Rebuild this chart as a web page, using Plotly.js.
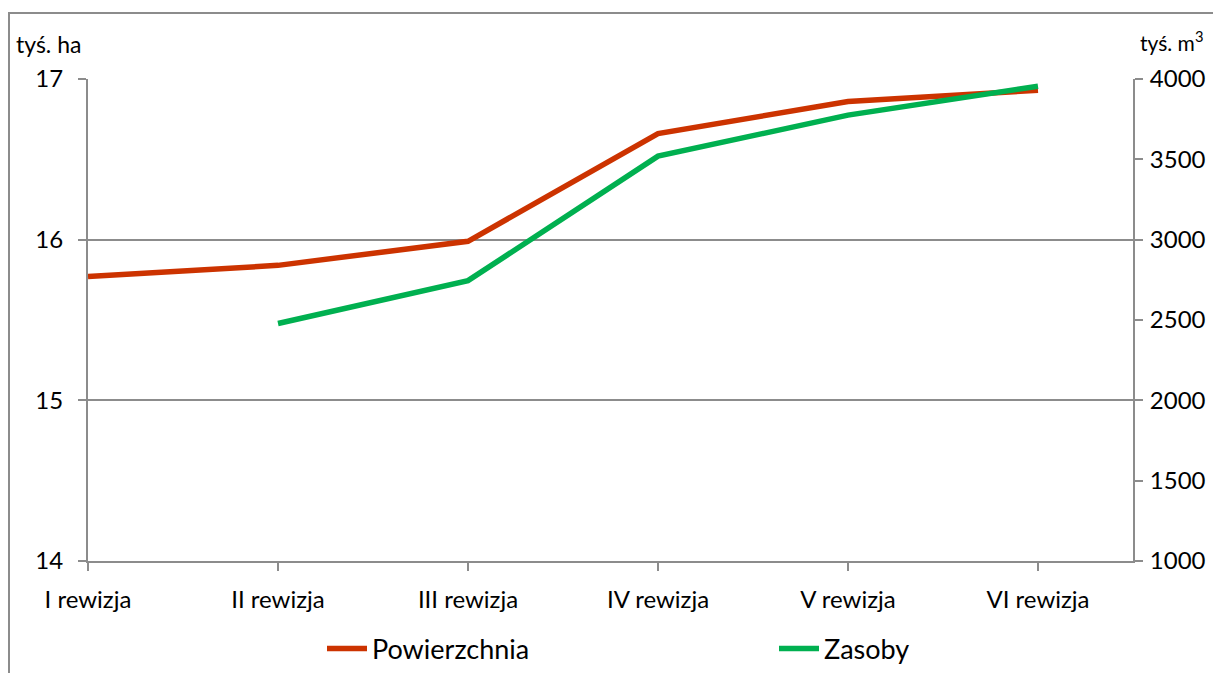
<!DOCTYPE html>
<html>
<head>
<meta charset="utf-8">
<script src="https://cdn.plot.ly/plotly-3.0.1.min.js"></script>
<style>
html,body{margin:0;padding:0;background:#fff;}
#wrap{position:relative;width:1213px;height:673px;overflow:hidden;}
#frame{position:absolute;left:8px;top:12px;width:1300px;height:800px;border-left:2px solid #8c8c8c;border-top:2px solid #8c8c8c;pointer-events:none;z-index:5;}
#chart{position:absolute;left:0;top:0;width:1213px;height:673px;}
</style>
</head>
<body>
<div id="wrap">
<div id="chart"></div>
<div id="frame"></div>
</div>
<script>
const categories = ["I rewizja", "II rewizja", "III rewizja", "IV rewizja", "V rewizja", "VI rewizja"];
const powierzchnia = [15.77, 15.84, 15.99, 16.66, 16.86, 16.93];
const zasobyCats = ["II rewizja", "III rewizja", "IV rewizja", "V rewizja", "VI rewizja"];
const zasoby = [2478, 2745, 3520, 3775, 3955];
const leftTitle = "tyś. ha";
const rightTitle = "tyś. m<sup>3</sup>";

const FONT = "Lato, 'Open Sans', sans-serif";
const AX = "#8c8c8c";
const TF = 24;

const traces = [
  {x: categories, y: powierzchnia, name: "Powierzchnia", type: "scatter", mode: "lines",
   line: {color: "#CC3300", width: 5.5}, yaxis: "y", legend: "legend"},
  {x: zasobyCats, y: zasoby, name: "Zasoby", type: "scatter", mode: "lines",
   line: {color: "#00B050", width: 5.5}, yaxis: "y2", legend: "legend2"}
];

const legBase = {orientation: "h", xref: "container", yref: "container",
  y: 0.072, yanchor: "top", xanchor: "left", font: {size: 27}, itemwidth: 40,
  bgcolor: "rgba(0,0,0,0)"};

const layout = {
  width: 1213, height: 673,
  margin: {l: 88, r: 80, t: 79, b: 112, autoexpand: false},
  paper_bgcolor: "#fff", plot_bgcolor: "#fff",
  font: {family: FONT, size: TF, color: "#000"},
  showlegend: true,
  legend: Object.assign({}, legBase, {x: 322 / 1213}),
  legend2: Object.assign({}, legBase, {x: 774 / 1213}),
  xaxis: {type: "category", categoryorder: "array", categoryarray: categories,
          range: [0, 5.5], showgrid: false, zeroline: false,
          showline: true, linecolor: AX, linewidth: 2,
          ticks: "outside", ticklen: 8, tickcolor: AX, tickwidth: 2,
          ticklabelstandoff: 8, tickfont: {size: TF}},
  yaxis: {range: [14, 17], dtick: 1, showgrid: true, gridcolor: AX, gridwidth: 2,
          zeroline: false, showline: true, linecolor: AX, linewidth: 2,
          ticks: "outside", ticklen: 8, tickcolor: AX, tickwidth: 2,
          ticklabelstandoff: 10, tickfont: {size: TF}},
  yaxis2: {range: [1000, 4000], dtick: 500, overlaying: "y", side: "right",
           showgrid: false, zeroline: false, showline: true, linecolor: AX, linewidth: 2,
           ticks: "outside", ticklen: 8, tickcolor: AX, tickwidth: 2,
           ticklabelstandoff: 2, tickfont: {size: TF}},
  annotations: [
    {text: leftTitle, xref: "paper", yref: "paper", x: -0.071, y: 1.04,
     xanchor: "left", yanchor: "bottom", showarrow: false, font: {size: 23}},
    {text: rightTitle, xref: "paper", yref: "paper", x: 1.005, y: 1.045,
     xanchor: "left", yanchor: "bottom", showarrow: false, font: {size: 21}}
  ]
};

Plotly.newPlot("chart", traces, layout, {displayModeBar: false, staticPlot: true});
</script>
</body>
</html>
